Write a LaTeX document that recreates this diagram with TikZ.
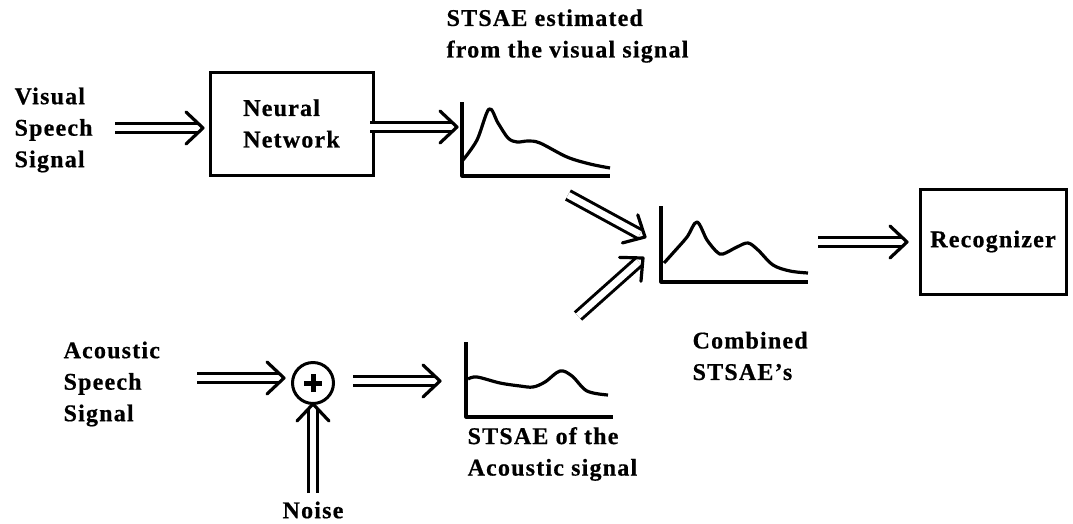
\documentclass[tikz,border=0pt]{standalone}
\usepackage{fontspec}
\setmainfont{Liberation Serif}[LetterSpace=5, BoldFeatures={FakeBold=0.6}]
\usepackage{tikz}
\usetikzlibrary{calc}

% double-lined arrow with an open head
\newcommand{\dblarrow}[2]{%
  \draw[dblshaft] (#1) -- (#2);
  \draw[barb] ($(#2)!17pt!(#1)!16pt!90:(#2)$) -- (#2) -- ($(#2)!17pt!(#1)!16pt!-90:(#2)$);}

\begin{document}
\begin{tikzpicture}[x=1pt, y=-1pt, line width=3.2pt,
    lbl/.style={font=\fontsize{24}{31.5}\selectfont\bfseries, align=left, inner sep=0pt},
    blk/.style={draw, line width=3pt},
    dblshaft/.style={double, double distance=6.5pt, line width=3pt, shorten >=6pt},
    barb/.style={line width=3.2pt, line cap=round, line join=round},
    spec/.style={line width=3.2pt, line join=round}]
    \useasboundingbox (0,0) rectangle (1073,523);

    % Input texts
    \node[lbl, anchor=west] (visual) at (13,130) {Visual\\Speech\\Signal};
    \node[lbl, anchor=west] (acoustic) at (62,384) {Acoustic\\Speech\\Signal};

    % Boxes and the adder
    \node[blk, lbl, minimum width=163pt, minimum height=103pt] (nn) at (291.5,123.5) {Neural\\Network};
    \node[blk, lbl, minimum width=146pt, minimum height=105pt] (rec) at (993,241.5) {Recognizer};
    \node[draw, line width=3pt, circle, minimum size=41pt, inner sep=0pt] (sum) at (313,383) {};
    \draw[line width=5pt] ([xshift=-9pt]sum.center) -- ([xshift=9pt]sum.center);
    \draw[line width=5pt] ([yshift=-9pt]sum.center) -- ([yshift=9pt]sum.center);

    % Captions
    \node[lbl, anchor=west] (vistxt) at (445,36) {STSAE estimated\\from the visual signal};
    \node[lbl, anchor=west] (comb) at (691,356) {Combined\\STSAE's};
    \node[lbl, anchor=west] (acotxt) at (466,454) {STSAE of the\\Acoustic signal};
    \node[lbl] (noise) at (313,510) {Noise};

    % Spectra
    \draw[spec] (462,102) |- (610,176);
    \draw[spec] plot[smooth, tension=0.55] coordinates {(463,160) (477,140) (489,109) (498,123) (508,138) (517,142) (528,141) (540,143) (567,157) (590,164) (610,168)};
    \draw[spec] (661,206) |- (808,282);
    \draw[spec] plot[smooth, tension=0.55] coordinates {(664,263) (673,253) (687,237) (697,222) (707,240) (717,252) (723,254) (737,247) (748,243) (758,250) (773,265) (790,271) (808,273)};
    \draw[spec] (466,342) |- (613,417);
    \draw[spec] plot[smooth, tension=0.55] coordinates {(468,379) (477,377) (500,383) (520,386) (533,387) (545,382) (560,371) (572,376) (587,391) (608,395)};

    % Arrow ends
    \coordinate (vin) at (115,128);   \coordinate (vtip) at (203,128);
    \coordinate (nnout) at (370,127); \coordinate (g1tip) at (457,127);
    \coordinate (g1out) at (568,195); \coordinate (g2tipa) at (645,237);
    \coordinate (g3out) at (578,316); \coordinate (g2tipb) at (643,258);
    \coordinate (g2out) at (818,242); \coordinate (rectip) at (907,242);
    \coordinate (ain) at (197,378);   \coordinate (sumtip) at (284,378);
    \coordinate (sumout) at (353,381); \coordinate (g3tip) at (440,381);
    \coordinate (nin) at (313,493);   \coordinate (ntip) at (313,404);

    % Arrows
    \dblarrow{vin}{vtip}
    \dblarrow{nnout}{g1tip}
    \dblarrow{g1out}{g2tipa}
    \dblarrow{g3out}{g2tipb}
    \dblarrow{g2out}{rectip}
    \dblarrow{ain}{sumtip}
    \dblarrow{sumout}{g3tip}
    \dblarrow{nin}{ntip}
\end{tikzpicture}
\end{document}
